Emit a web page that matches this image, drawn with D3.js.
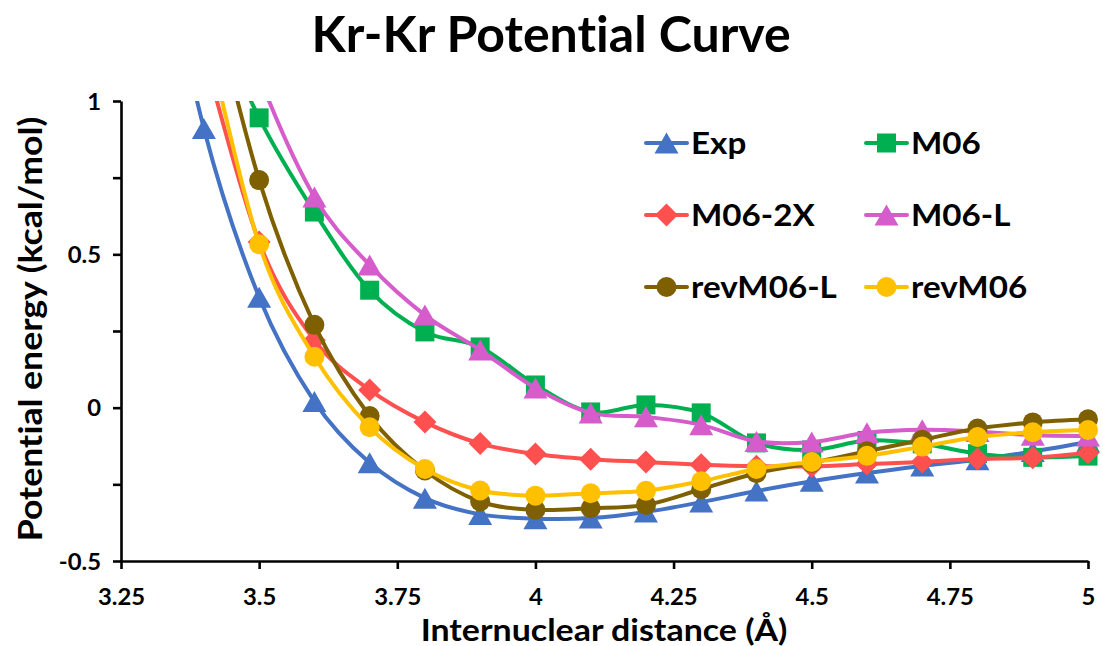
<!DOCTYPE html>
<html>
<head>
<meta charset="utf-8">
<script src="https://cdn.jsdelivr.net/npm/d3@7"></script>
<style>
  html, body { margin: 0; padding: 0; background: #ffffff; }
  svg { display: block; }
  text { font-family: Lato, "Open Sans", "Noto Sans", sans-serif; font-weight: bold; fill: #000;
         font-variant-ligatures: none; font-feature-settings: "liga" 0, "clig" 0; }
</style>
</head>
<body>
<svg id="chart" width="1103" height="646"></svg>
<script>
// ---------------- data ----------------
const xValues = [3.3, 3.4, 3.5, 3.6, 3.7, 3.8, 3.9, 4.0, 4.1, 4.2, 4.3, 4.4, 4.5, 4.6, 4.7, 4.8, 4.9, 5.0];

const seriesNames = ["Exp", "M06", "M06-2X", "M06-L", "revM06-L", "revM06"];

const expValues     = [1.75, 0.91, 0.36, 0.02, -0.18, -0.295, -0.348, -0.362, -0.36, -0.34, -0.308, -0.272, -0.24, -0.213, -0.19, -0.17, -0.143, -0.112];
const m06Values     = [null, 1.35, 0.945, 0.638, 0.383, 0.247, 0.198, 0.074, -0.014, 0.009, -0.017, -0.115, -0.138, -0.107, -0.118, -0.15, -0.162, -0.158];
const m062xValues   = [null, 1.16, 0.54, 0.22, 0.058, -0.047, -0.117, -0.151, -0.168, -0.177, -0.186, -0.191, -0.191, -0.184, -0.177, -0.167, -0.163, -0.147];
const m06lValues    = [null, 1.6, 1.08, 0.687, 0.465, 0.302, 0.188, 0.064, -0.017, -0.03, -0.056, -0.11, -0.112, -0.082, -0.072, -0.078, -0.09, -0.092];
const revm06lValues = [null, 1.45, 0.742, 0.27, -0.027, -0.205, -0.306, -0.333, -0.328, -0.317, -0.266, -0.214, -0.18, -0.142, -0.105, -0.068, -0.048, -0.038];
const revm06Values  = [null, 1.26, 0.533, 0.166, -0.064, -0.2, -0.27, -0.287, -0.279, -0.271, -0.24, -0.2, -0.177, -0.157, -0.127, -0.096, -0.08, -0.073];

const xTicks = [3.25, 3.5, 3.75, 4, 4.25, 4.5, 4.75, 5];
const xTickLabels = ["3.25", "3.5", "3.75", "4", "4.25", "4.5", "4.75", "5"];
const yTicks = [-0.5, -0.25, 0, 0.25, 0.5, 0.75, 1];
const yTickLabels = ["-0.5", "", "0", "", "0.5", "", "1"];

const titleText = "Kr-Kr Potential Curve";
const xTitleText = "Internuclear distance (\u00C5)";
const yTitleText = "Potential energy (kcal/mol)";

// ---------------- styles ----------------
const colors = ["#4472C4", "#00B050", "#FF5050", "#D65BCB", "#7F6000", "#FFC000"];
const markers = ["triangle", "square", "diamond", "triangle", "circle", "circle"];
const allValues = [expValues, m06Values, m062xValues, m06lValues, revm06lValues, revm06Values];

const series = seriesNames.map((name, i) => ({
  name,
  color: colors[i],
  marker: markers[i],
  points: xValues.map((x, j) => ({ x, y: allValues[i][j] })).filter(p => p.y !== null)
}));

// ---------------- layout ----------------
const svg = d3.select("#chart");
const plot = { left: 121, right: 1088, top: 101, bottom: 561 };

const x = d3.scaleLinear().domain([3.25, 5]).range([plot.left, plot.right]);
const y = d3.scaleLinear().domain([-0.5, 1]).range([plot.bottom, plot.top]);

// widen glyphs slightly to mimic the reference face
function stretch(factor) {
  return sel => sel.each(function () {
    const len = this.getComputedTextLength();
    if (len > 0) d3.select(this).attr("textLength", len * factor).attr("lengthAdjust", "spacingAndGlyphs");
  });
}

function markerPath(type) {
  switch (type) {
    case "triangle": return "M0,-10.5L12,10.5L-12,10.5Z";
    case "square": return "M-9.5,-9.5H9.5V9.5H-9.5Z";
    case "diamond": return "M0,-11.5L11.5,0L0,11.5L-11.5,0Z";
    default: return d3.symbol(d3.symbolCircle, Math.PI * 10 * 10)();
  }
}

svg.append("defs").append("clipPath").attr("id", "plotClip")
  .append("rect")
  .attr("x", plot.left - 10).attr("y", plot.top)
  .attr("width", plot.right - plot.left + 20).attr("height", plot.bottom - plot.top);

// axes
const xAxis = d3.axisBottom(x).tickValues(xTicks).tickFormat((d, i) => xTickLabels[i]).tickSize(8).tickSizeOuter(0);
const yAxis = d3.axisLeft(y).tickValues(yTicks).tickFormat((d, i) => yTickLabels[i]).tickSize(8).tickSizeOuter(0);

const gx = svg.append("g").attr("transform", `translate(0,${plot.bottom})`).call(xAxis);
const gy = svg.append("g").attr("transform", `translate(${plot.left},0)`).call(yAxis);

[gx, gy].forEach(g => {
  g.select(".domain").attr("stroke", "#000").attr("stroke-width", 2.6);
  g.selectAll(".tick line").attr("stroke", "#000").attr("stroke-width", 2.6);
  g.selectAll(".tick text").attr("font-size", 22.5).attr("font-family", null).attr("fill", "#000");
});
gx.selectAll(".tick text").attr("dy", null).attr("y", 44).attr("dominant-baseline", "auto");
gy.selectAll(".tick text").attr("dy", null).attr("x", -20).attr("y", 8);
gx.selectAll(".tick text").call(stretch(1.06));
gy.selectAll(".tick text").call(stretch(1.06));

// lines and markers
const line = d3.line()
  .x(d => x(d.x))
  .y(d => y(d.y))
  .curve(d3.curveCardinal.tension(0));

const gSeries = svg.append("g");
series.forEach(s => {
  const g = gSeries.append("g");
  g.append("path")
    .attr("d", line(s.points))
    .attr("fill", "none")
    .attr("stroke", s.color)
    .attr("stroke-width", 4)
    .attr("stroke-linejoin", "round")
    .attr("stroke-linecap", "round")
    .attr("clip-path", "url(#plotClip)");
  g.selectAll("path.mk")
    .data(s.points.filter(p => p.y <= 1 && p.y >= -0.5 && p.x >= 3.25 && p.x <= 5))
    .join("path")
    .attr("class", "mk")
    .attr("d", markerPath(s.marker))
    .attr("transform", d => `translate(${x(d.x)},${y(d.y)})`)
    .attr("fill", s.color);
});

// legend
const legendCols = [646, 866];
const legendRows = [143, 215, 287];
const legend = svg.append("g");
series.forEach((s, i) => {
  const lx = legendCols[i % 2];
  const ly = legendRows[Math.floor(i / 2)];
  const g = legend.append("g").attr("transform", `translate(${lx},${ly})`);
  g.append("line").attr("x1", 0).attr("x2", 41).attr("y1", 0).attr("y2", 0)
    .attr("stroke", s.color).attr("stroke-width", 4).attr("stroke-linecap", "round");
  g.append("path").attr("d", markerPath(s.marker)).attr("transform", "translate(20.5,0)").attr("fill", s.color);
  g.append("text").attr("x", 45).attr("y", 11).attr("font-size", 31).text(s.name).call(stretch(1.07));
});

// titles
svg.append("text").attr("x", 551).attr("y", 52).attr("text-anchor", "middle")
  .attr("font-size", 50).text(titleText);
svg.append("text").attr("x", 604).attr("y", 641).attr("text-anchor", "middle")
  .attr("font-size", 30).text(xTitleText).call(stretch(1.13));
svg.append("text").attr("transform", "translate(42,329) rotate(-90)").attr("text-anchor", "middle")
  .attr("font-size", 33).text(yTitleText).call(stretch(1.08));
</script>
</body>
</html>
